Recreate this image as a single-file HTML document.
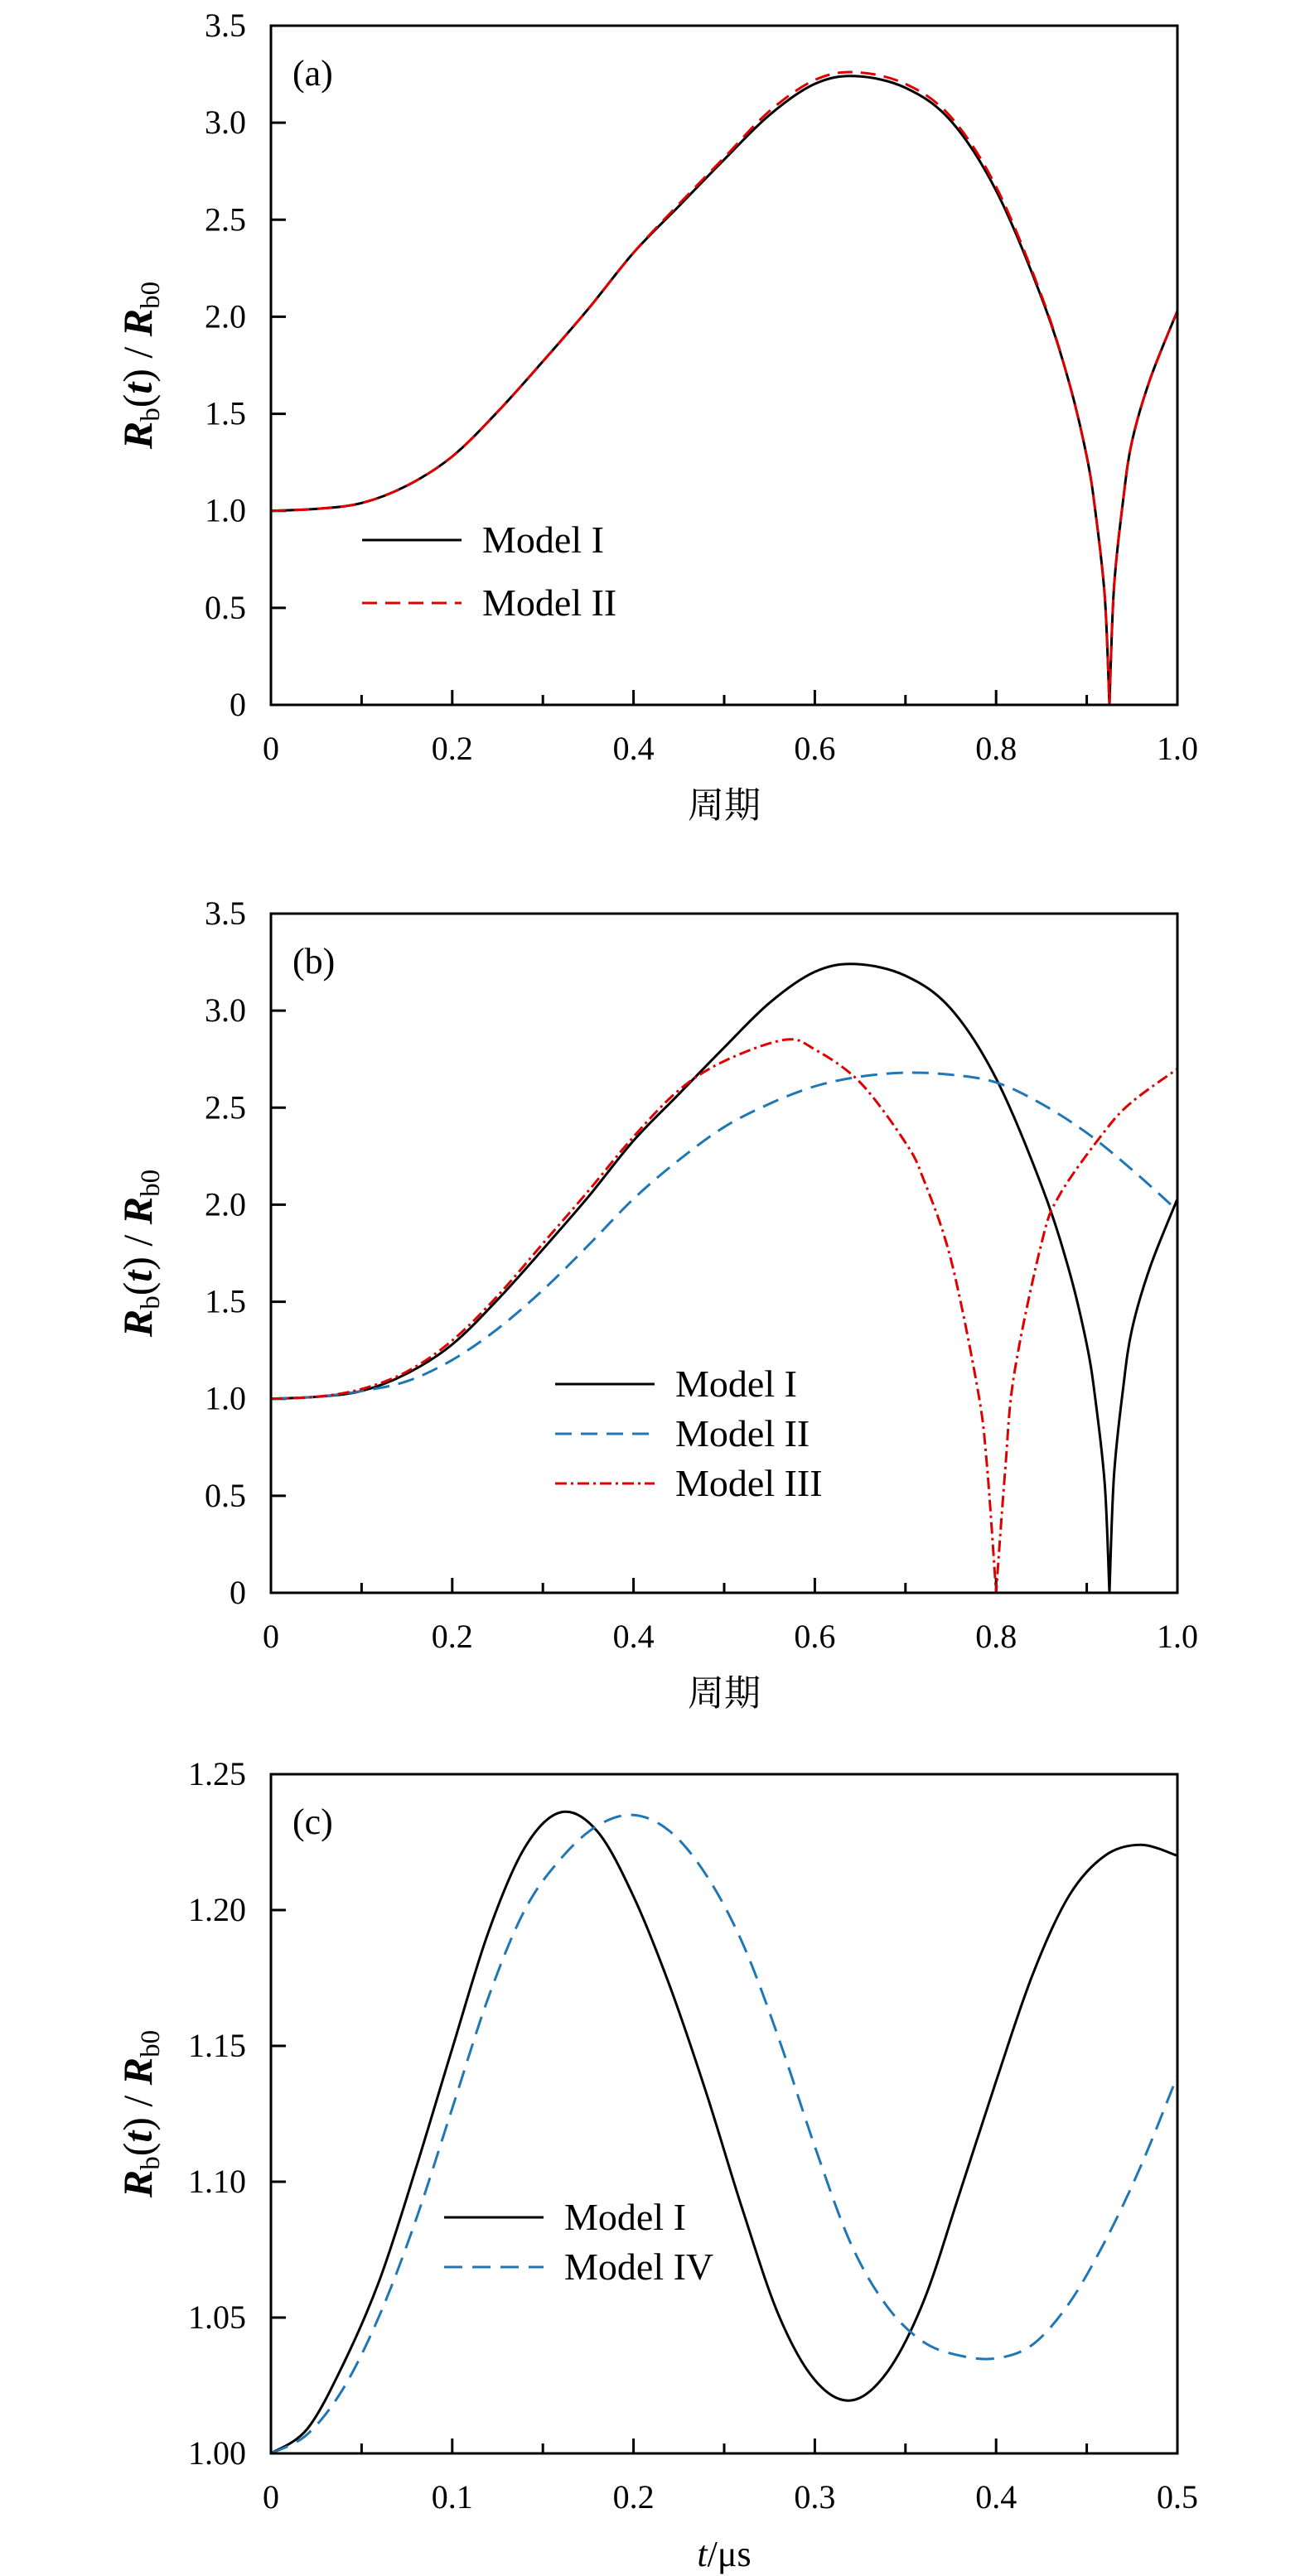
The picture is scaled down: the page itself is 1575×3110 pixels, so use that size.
<!DOCTYPE html>
<html><head><meta charset="utf-8"><style>
html,body{margin:0;padding:0;background:#fff;}
svg{display:block;}
text{font-family:"Liberation Serif","Noto Serif CJK SC",serif;fill:#000;}
</style></head><body>
<svg id="fig" width="1575" height="3110" viewBox="0 0 1575 3110" xmlns="http://www.w3.org/2000/svg"></svg>
<script>
// ---- Panel (a)/(b) data: x = period fraction ----
const tAB = [0,0.05,0.1,0.15,0.2,0.25,0.3,0.35,0.4,0.45,0.5,0.55,0.6,0.645,0.7,0.75,0.8,0.85,0.88,0.9,0.91,0.92,0.925,0.93,0.94,0.95,0.97,1.0];
const model1AB = [1.0,1.01,1.04,1.13,1.28,1.51,1.77,2.04,2.33,2.57,2.81,3.04,3.20,3.24,3.18,3.01,2.65,2.10,1.67,1.28,0.98,0.55,0.0,0.6,1.05,1.36,1.68,2.03];
const model2A = [1.0,1.01,1.04,1.13,1.28,1.51,1.77,2.04,2.33,2.58,2.82,3.06,3.22,3.26,3.20,3.03,2.67,2.11,1.67,1.28,0.98,0.55,0.0,0.6,1.05,1.36,1.68,2.03];
const tB2 = [0,0.05,0.1,0.15,0.2,0.25,0.3,0.35,0.4,0.45,0.5,0.55,0.6,0.65,0.7,0.75,0.8,0.85,0.9,0.95,1.0];
const model2B = [1.0,1.01,1.04,1.09,1.20,1.36,1.56,1.79,2.03,2.23,2.40,2.52,2.61,2.66,2.68,2.67,2.63,2.52,2.37,2.18,1.97];
const tB3 = [0,0.05,0.1,0.15,0.2,0.25,0.3,0.35,0.4,0.45,0.5,0.567,0.6,0.65,0.7,0.72,0.75,0.78,0.79,0.8,0.81,0.82,0.85,0.87,0.92,0.95,1.0];
const model3B = [1.0,1.01,1.05,1.14,1.30,1.53,1.80,2.07,2.35,2.59,2.74,2.85,2.80,2.63,2.32,2.13,1.72,1.04,0.65,0.0,0.63,1.13,1.80,2.05,2.38,2.53,2.70];
// ---- Panel (c) data: x = t (us) ----
const tC = [0,0.02,0.04,0.06,0.08,0.1,0.12,0.14,0.16,0.18,0.2,0.22,0.24,0.26,0.28,0.3,0.32,0.34,0.36,0.38,0.4,0.42,0.44,0.46,0.48,0.5];
const model1C = [1.0,1.009,1.033,1.064,1.105,1.149,1.192,1.223,1.236,1.229,1.205,1.172,1.133,1.090,1.051,1.027,1.0195,1.030,1.056,1.096,1.137,1.176,1.205,1.220,1.224,1.220];
const tC4 = [0,0.02,0.04,0.06,0.08,0.1,0.12,0.14,0.16,0.18,0.2,0.22,0.24,0.26,0.28,0.3,0.32,0.34,0.36,0.38,0.4,0.42,0.44,0.46,0.48,0.5];
const model4C = [1.0,1.007,1.024,1.051,1.086,1.127,1.168,1.200,1.219,1.231,1.235,1.229,1.213,1.188,1.153,1.113,1.077,1.054,1.041,1.036,1.035,1.040,1.055,1.078,1.106,1.139];
const ticksAB_y = ["0","0.5","1.0","1.5","2.0","2.5","3.0","3.5"];
const ticksAB_x = ["0","0.2","0.4","0.6","0.8","1.0"];
const ticksC_y = ["1.00","1.05","1.10","1.15","1.20","1.25"];
const ticksC_x = ["0","0.1","0.2","0.3","0.4","0.5"];

const NS="http://www.w3.org/2000/svg";
const svg=document.getElementById('fig');
function mk(tag,attrs,parent){const e=document.createElementNS(NS,tag);for(const k in attrs)e.setAttribute(k,attrs[k]);(parent||svg).appendChild(e);return e;}

function smoothPath(P,cusps){
  let d='M'+P[0][0].toFixed(1)+','+P[0][1].toFixed(1);
  let segs=[];let start=0;
  for(let i=1;i<P.length;i++){ if(cusps.has(i)||i===P.length-1){segs.push([start,i]);start=i;} }
  segs.forEach(([a,b])=>{
    for(let i=a;i<b;i++){
      const p0=P[Math.max(i-1,a)],p1=P[i],p2=P[i+1],p3=P[Math.min(i+2,b)];
      const c1=[p1[0]+(p2[0]-p0[0])/6,p1[1]+(p2[1]-p0[1])/6];
      const c2=[p2[0]-(p3[0]-p1[0])/6,p2[1]-(p3[1]-p1[1])/6];
      d+=' C'+c1.map(v=>v.toFixed(1)).join(',')+' '+c2.map(v=>v.toFixed(1)).join(',')+' '+p2[0].toFixed(1)+','+p2[1].toFixed(1);
    }
  });
  return d;
}

function panel(o){
  const g=mk('g',{});
  
  
  const L=327,R=1421,T=o.top,B=o.top+820;
  const sx=v=>L+(v-o.xmin)/(o.xmax-o.xmin)*(R-L);
  const sy=v=>B-(v-o.ymin)/(o.ymax-o.ymin)*(B-T);
  o.yt.forEach(s=>{
    const v=parseFloat(s),y=sy(v);
    const tk=mk('line',{x1:L,x2:L+18,y1:y,y2:y,stroke:'#000','stroke-width':3},g);
    
    
    const t=mk('text',{x:L-30,y:y+13,'text-anchor':'end','font-size':40},g);
    t.textContent=s;
    
    
  });
  const step=(o.xmax-o.xmin)/(o.xt.length-1);
  for(let i=0;i<o.xt.length;i++){
    const v=parseFloat(o.xt[i]),x=sx(v);
    const tk=mk('line',{x1:x,x2:x,y1:B,y2:B-18,stroke:'#000','stroke-width':3},g);
    
    
    if(i<o.xt.length-1){
      const xm=sx(v+step/2);
      const mn=mk('line',{x1:xm,x2:xm,y1:B,y2:B-12,stroke:'#000','stroke-width':3},g);
      
      
    }
    const t=mk('text',{x:x,y:B+66,'text-anchor':'middle','font-size':40},g);
    t.textContent=o.xt[i];
    
    
  }
  o.series.forEach(s=>{
    const P=s.x.map((xv,i)=>[sx(xv),sy(s.y[i])]);
    const cusps=new Set();
    s.y.forEach((v,i)=>{ if(v===0) cusps.add(i); });
    const p=mk('path',{d:smoothPath(P,cusps),fill:'none',stroke:s.color,'stroke-width':3,'stroke-linejoin':'round','stroke-dasharray':s.dash||'none'},g);
    
    
  });
  const fr=mk('rect',{x:L,y:T,width:R-L,height:B-T,fill:'none',stroke:'#000','stroke-width':3},g);
  
  
  const pl=mk('text',{x:353,y:T+72,'font-size':44},g);
  pl.textContent=o.label;
  
  
  o.series.forEach((s,i)=>{
    const y=o.legY+i*o.legDy;
    const ln=mk('line',{x1:o.legX,x2:o.legX+120,y1:y,y2:y,stroke:s.color,'stroke-width':3,'stroke-dasharray':s.dash||'none'},g);
    
    
    const t=mk('text',{x:o.legX+145,y:y+15,'font-size':46},g);
    t.textContent=s.label;
    
    
  });
  const yt=mk('text',{x:0,y:0,'font-size':50,'text-anchor':'middle',transform:`translate(183,${(T+B)/2}) rotate(-90)`},g);
  yt.innerHTML='<tspan font-style="italic" font-weight="bold">R</tspan><tspan font-size="33" dy="9">b</tspan><tspan dy="-9">(</tspan><tspan font-style="italic" font-weight="bold">t</tspan><tspan>) / </tspan><tspan font-style="italic" font-weight="bold">R</tspan><tspan font-size="33" dy="9">b0</tspan>';
  
  
  const xt=mk('text',{x:(L+R)/2,y:B+136,'font-size':44,'text-anchor':'middle'},g);
  xt.innerHTML=o.xlabel;
  
  
}

panel({name:'panel-a',top:31,xmin:0,xmax:1,ymin:0,ymax:3.5,yt:ticksAB_y,xt:ticksAB_x,label:'(a)',
  xlabel:'<tspan font-family="Noto Serif CJK SC, Noto Sans CJK SC, serif">周期</tspan>',
  legX:437,legY:652,legDy:76,
  series:[{name:'model-1-line',label:'Model I',x:tAB,y:model1AB,color:'#000'},
          {name:'model-2-line',label:'Model II',x:tAB,y:model2A,color:'#e00000',dash:'18 10'}]});
panel({name:'panel-b',top:1103,xmin:0,xmax:1,ymin:0,ymax:3.5,yt:ticksAB_y,xt:ticksAB_x,label:'(b)',
  xlabel:'<tspan font-family="Noto Serif CJK SC, Noto Sans CJK SC, serif">周期</tspan>',
  legX:670,legY:1671,legDy:60,
  series:[{name:'model-1-line',label:'Model I',x:tAB,y:model1AB,color:'#000'},
          {name:'model-2-line',label:'Model II',x:tB2,y:model2B,color:'#1f77b4',dash:'20 11'},
          {name:'model-3-line',label:'Model III',x:tB3,y:model3B,color:'#e00000',dash:'14 5 3 5'}]});
panel({name:'panel-c',top:2142,xmin:0,xmax:0.5,ymin:1.0,ymax:1.25,yt:ticksC_y,xt:ticksC_x,label:'(c)',
  xlabel:'<tspan font-style="italic">t</tspan>/μs',
  legX:536,legY:2677,legDy:60,
  series:[{name:'model-1-line',label:'Model I',x:tC,y:model1C,color:'#000'},
          {name:'model-4-line',label:'Model IV',x:tC4,y:model4C,color:'#1f77b4',dash:'22 12'}]});
</script>
</body></html>
